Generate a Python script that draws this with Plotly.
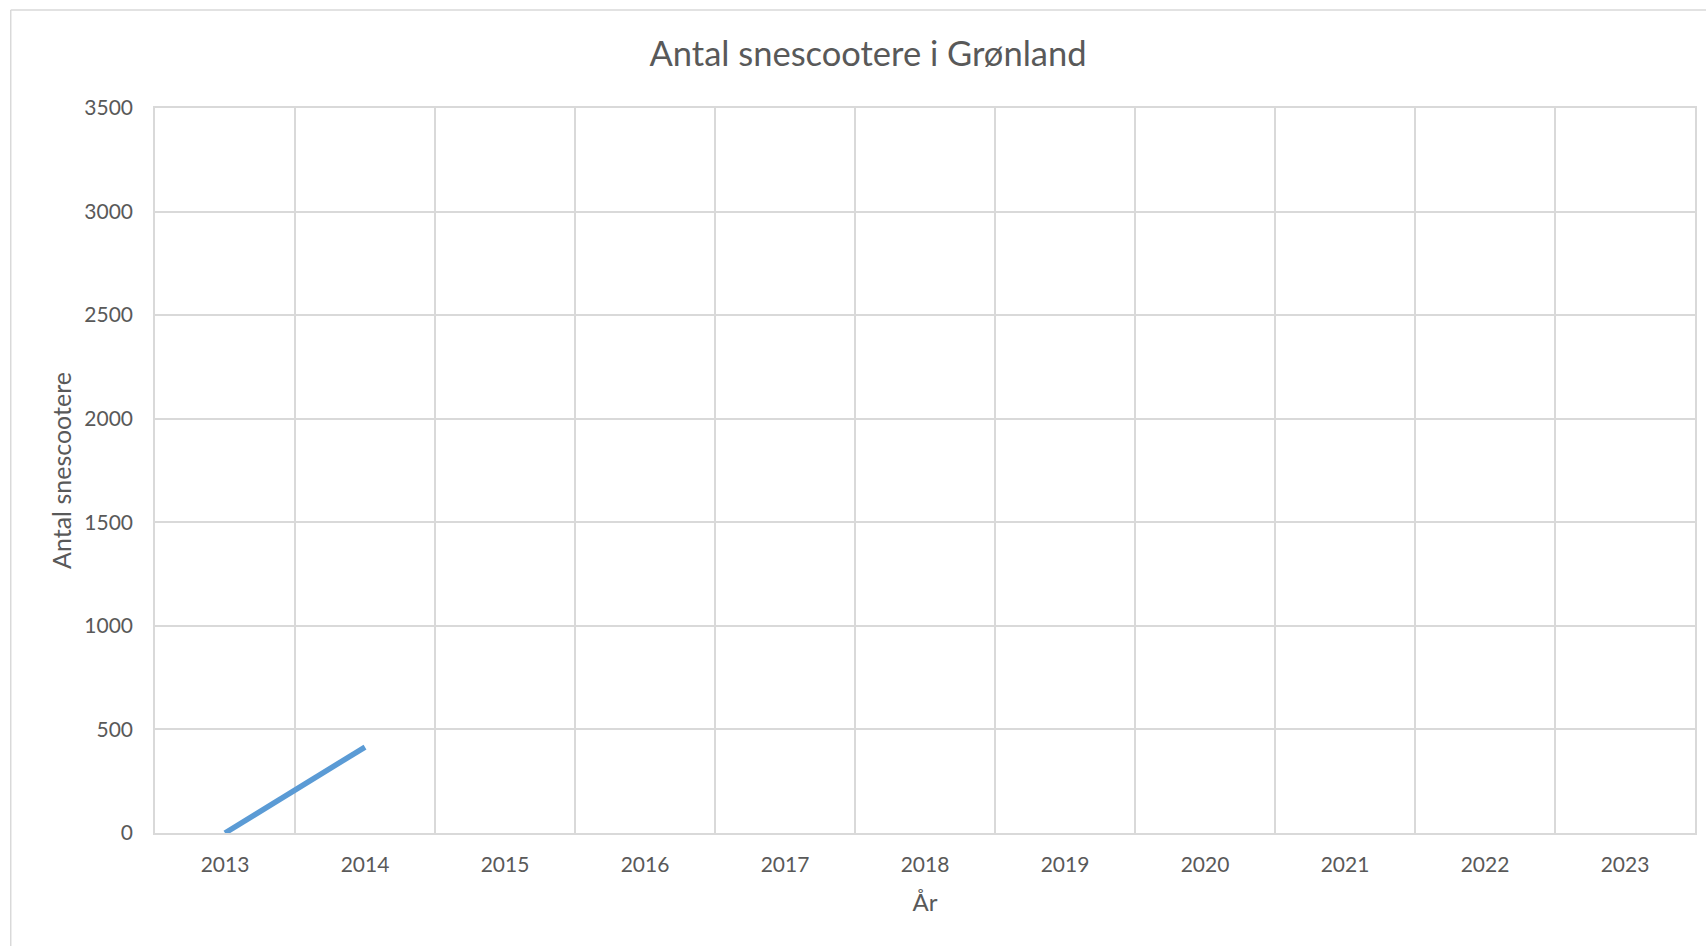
import plotly.graph_objects as go

years = ["2013", "2014", "2015", "2016", "2017", "2018", "2019", "2020", "2021", "2022", "2023"]
snescootere = [0, 415, None, None, None, None, None, None, None, None, None]

title_text = "Antal snescootere i Grønland"
x_title = "År"
y_title = "Antal snescootere"

W, H = 1706, 946
# plot area in screen px: 154.5..1696.7 x 108..832.7
L, T, Rr, Bb = 154.5, 108, 1697, 832.7
pw, ph = Rr - L, Bb - T

txt = "#595959"
grid = "#D9D9D9"
FONT = "Lato, 'Open Sans', sans-serif"

fig = go.Figure()
fig.add_trace(go.Scatter(
    x=years, y=snescootere, mode="lines",
    line=dict(color="#5B9BD5", width=5.5),
    connectgaps=False, showlegend=False, hoverinfo="x+y",
))

def px_x(p):
    return (p - L) / pw

def px_y(p):
    return 1 - (p - T) / ph

fig.update_layout(
    width=W, height=H,
    margin=dict(l=L, r=W - Rr, t=T, b=H - Bb, pad=0),
    paper_bgcolor="white", plot_bgcolor="white",
    font=dict(family=FONT, color=txt, size=21),
    title=dict(text=title_text, xref="container", x=868 / W, xanchor="center",
               yref="container", y=1 - 54 / H, yanchor="middle",
               font=dict(size=34.5, color=txt, family=FONT)),
    xaxis=dict(
        type="category", categoryorder="array", categoryarray=years,
        range=[-0.5, len(years) - 0.5],
        tickson="boundaries", showgrid=True, gridcolor=grid, gridwidth=1.5,
        showline=True, linecolor=grid, linewidth=1.5, mirror=True,
        ticks="", ticklabelstandoff=12,
        tickfont=dict(size=21, color=txt),
        title=dict(text=x_title, font=dict(size=24, color=txt), standoff=19),
        zeroline=False, fixedrange=True,
    ),
    yaxis=dict(
        range=[0, 3500], dtick=500, tick0=0,
        showgrid=True, gridcolor=grid, gridwidth=1.5,
        showline=True, linecolor=grid, linewidth=1.5, mirror=True,
        ticks="", ticklabelstandoff=16,
        tickfont=dict(size=21, color=txt),
        title=dict(text=y_title, font=dict(size=25, color=txt), standoff=6),
        zeroline=False, fixedrange=True,
    ),
    shapes=[
        dict(type="line", xref="paper", yref="paper",
             x0=px_x(10), x1=px_x(10), y0=px_y(950), y1=px_y(10),
             line=dict(color=grid, width=1.5)),
        dict(type="line", xref="paper", yref="paper",
             x0=px_x(10), x1=px_x(1710), y0=px_y(10), y1=px_y(10),
             line=dict(color=grid, width=1.5)),
    ],
)

fig.write_html(
    "out.html",
    config={"displayModeBar": False},
    post_script="document.body.style.margin='0';document.body.style.overflow='hidden';",
)
